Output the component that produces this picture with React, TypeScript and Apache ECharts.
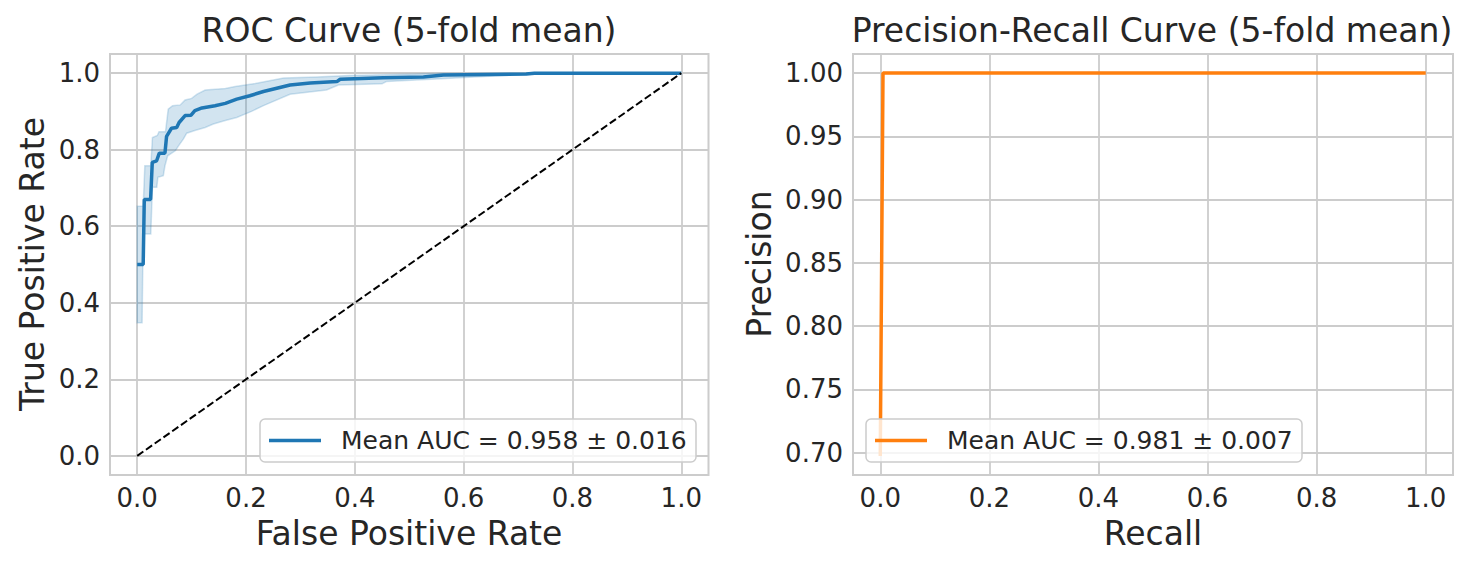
import React, { useEffect, useRef } from "react";
import * as echarts from "echarts";

// ROC mean curve (5-fold mean)
const rocMeanFpr = [0, 0.011, 0.013, 0.0246, 0.0277, 0.0357, 0.0406, 0.051, 0.054, 0.063, 0.0726, 0.077, 0.088, 0.099, 0.106, 0.119, 0.143, 0.162, 0.183, 0.207, 0.232, 0.281, 0.318, 0.367, 0.373, 0.452, 0.526, 0.563, 0.715, 0.73, 1.0];
const rocMeanTpr = [0.5, 0.5, 0.67, 0.67, 0.767, 0.771, 0.791, 0.791, 0.835, 0.856, 0.858, 0.871, 0.889, 0.89, 0.902, 0.909, 0.915, 0.921, 0.932, 0.941, 0.952, 0.969, 0.974, 0.978, 0.984, 0.988, 0.99, 0.995, 0.998, 1.0, 1.0];

// ROC band: mean ± 1 std
const rocUpperFpr = [0, 0.011, 0.014, 0.025, 0.028, 0.037, 0.04, 0.052, 0.057, 0.065, 0.079, 0.088, 0.1, 0.11, 0.125, 0.162, 0.18, 0.217, 0.269, 0.33, 0.391, 0.452, 0.55, 0.6, 1.0];
const rocUpperTpr = [0.652, 0.652, 0.758, 0.758, 0.832, 0.837, 0.847, 0.847, 0.906, 0.915, 0.917, 0.93, 0.934, 0.945, 0.956, 0.96, 0.965, 0.973, 0.987, 0.99, 0.994, 0.996, 0.999, 1.0, 1.0];
const rocLowerFpr = [0, 0.009, 0.011, 0.025, 0.028, 0.036, 0.038, 0.048, 0.051, 0.056, 0.07, 0.076, 0.085, 0.091, 0.106, 0.125, 0.14, 0.162, 0.183, 0.21, 0.232, 0.281, 0.348, 0.37, 0.45, 0.458, 0.55, 0.62, 0.72, 0.73, 1.0];
const rocLowerTpr = [0.348, 0.348, 0.58, 0.58, 0.702, 0.702, 0.728, 0.732, 0.758, 0.784, 0.797, 0.81, 0.828, 0.843, 0.85, 0.858, 0.867, 0.876, 0.884, 0.9, 0.915, 0.945, 0.956, 0.969, 0.972, 0.978, 0.985, 0.99, 0.997, 1.0, 1.0];

// Chance diagonal
const chanceFpr = [0, 1];
const chanceTpr = [0, 1];

// Precision-Recall mean curve
const prRecall = [0, 0.005, 1.0];
const prPrecision = [0.6975, 1.0, 1.0];

// Tick labels
const rocTicks = [0, 0.2, 0.4, 0.6, 0.8, 1.0];
const prXTicks = [0, 0.2, 0.4, 0.6, 0.8, 1.0];
const prYTicks = [0.7, 0.75, 0.8, 0.85, 0.9, 0.95, 1.0];

const rocTitle = "ROC Curve (5-fold mean)";
const prTitle = "Precision-Recall Curve (5-fold mean)";
const rocLegend = "Mean AUC = 0.958 ± 0.016";
const prLegend = "Mean AUC = 0.981 ± 0.007";

const zip = (a: number[], b: number[]) => a.map((v, i) => [v, b[i]]);

const FONT = '"DejaVu Sans", "Liberation Sans", sans-serif';
const TXT = "#262626";
const GRID = "#cccccc";

export default function App() {
  const ref = useRef<HTMLDivElement>(null);
  useEffect(() => {
    if (!ref.current) return;
    const chart = echarts.init(ref.current, null, { renderer: "svg" });
    const upper = zip(rocUpperFpr, rocUpperTpr);
    const lower = zip(rocLowerFpr, rocLowerTpr);

    const axisCommon = (ticks: number[], digits: number, min: number, max: number, gridIndex: number) => ({
      type: "value",
      gridIndex,
      min,
      max,
      axisLine: { show: false },
      axisTick: { show: false, customValues: ticks },
      axisLabel: {
        customValues: ticks,
        formatter: (v: number) => v.toFixed(digits),
        fontSize: 26,
        fontFamily: FONT,
        color: TXT,
        margin: 10,
      },
      splitLine: { show: true, lineStyle: { color: GRID, width: 1.8 } },
    });

    const title = (text: string, x: number, y: number, rotation = 0, size = 33) => ({
      type: "text",
      x,
      y,
      rotation,
      z: 50,
      style: { text, font: `${size}px ${FONT}`, fill: TXT, align: "center", verticalAlign: "middle" },
    });

    const legend = (x: number, y: number, color: string, text: string) => [
      {
        type: "rect",
        z: 100,
        shape: { x, y, width: 436, height: 43, r: 5 },
        style: { fill: "rgba(255,255,255,0.8)", stroke: GRID, lineWidth: 1.5 },
      },
      {
        type: "line",
        z: 101,
        shape: { x1: x + 9, y1: y + 21.5, x2: x + 61, y2: y + 21.5 },
        style: { stroke: color, lineWidth: 3.5 },
      },
      {
        type: "text",
        z: 101,
        x: x + 81,
        y: y + 21.5,
        style: { text, font: `25px ${FONT}`, fill: TXT, align: "left", verticalAlign: "middle" },
      },
    ];

    chart.setOption({
      animation: false,
      grid: [
        { left: 110, top: 54, width: 598.5, height: 421, show: true, borderColor: GRID, borderWidth: 2, backgroundColor: "#fff" },
        { left: 853, top: 54, width: 600, height: 421, show: true, borderColor: GRID, borderWidth: 2, backgroundColor: "#fff" },
      ],
      xAxis: [axisCommon(rocTicks, 1, -0.05, 1.05, 0), axisCommon(prXTicks, 1, -0.05, 1.05, 1)],
      yAxis: [axisCommon(rocTicks, 1, -0.05, 1.05, 0), axisCommon(prYTicks, 2, 0.6824, 1.0151, 1)],
      series: [
        {
          type: "custom",
          xAxisIndex: 0,
          yAxisIndex: 0,
          z: 1,
          data: [[0, 0]],
          renderItem: (_params: any, api: any) => {
            const pts = upper.map((p) => api.coord(p)).concat(lower.slice().reverse().map((p) => api.coord(p)));
            return {
              type: "polygon",
              shape: { points: pts },
              style: { fill: "rgba(31,119,180,0.2)", stroke: "rgba(31,119,180,0.2)", lineWidth: 1.5 },
            };
          },
        },
        {
          type: "line",
          xAxisIndex: 0,
          yAxisIndex: 0,
          z: 3,
          data: zip(rocMeanFpr, rocMeanTpr),
          showSymbol: false,
          lineStyle: { color: "#1f77b4", width: 3.5 },
        },
        {
          type: "line",
          xAxisIndex: 0,
          yAxisIndex: 0,
          z: 4,
          data: zip(chanceFpr, chanceTpr),
          showSymbol: false,
          lineStyle: { color: "#000000", width: 2, type: [7.5, 3.2] },
        },
        {
          type: "line",
          xAxisIndex: 1,
          yAxisIndex: 1,
          z: 3,
          data: zip(prRecall, prPrecision),
          showSymbol: false,
          lineStyle: { color: "#ff7f0e", width: 3.5 },
        },
      ],
      graphic: [
        title(rocTitle, 409, 30),
        title(prTitle, 1152, 30),
        title("False Positive Rate", 409, 533),
        title("Recall", 1153, 533),
        title("True Positive Rate", 32, 264, Math.PI / 2),
        title("Precision", 759, 264, Math.PI / 2),
        ...legend(260, 419, "#1f77b4", rocLegend),
        ...legend(866, 419, "#ff7f0e", prLegend),
      ],
    });
    return () => chart.dispose();
  }, []);
  return <div ref={ref} style={{ position: "absolute", left: 0, top: 0, width: 1471, height: 567, background: "#fff" }} />;
}
